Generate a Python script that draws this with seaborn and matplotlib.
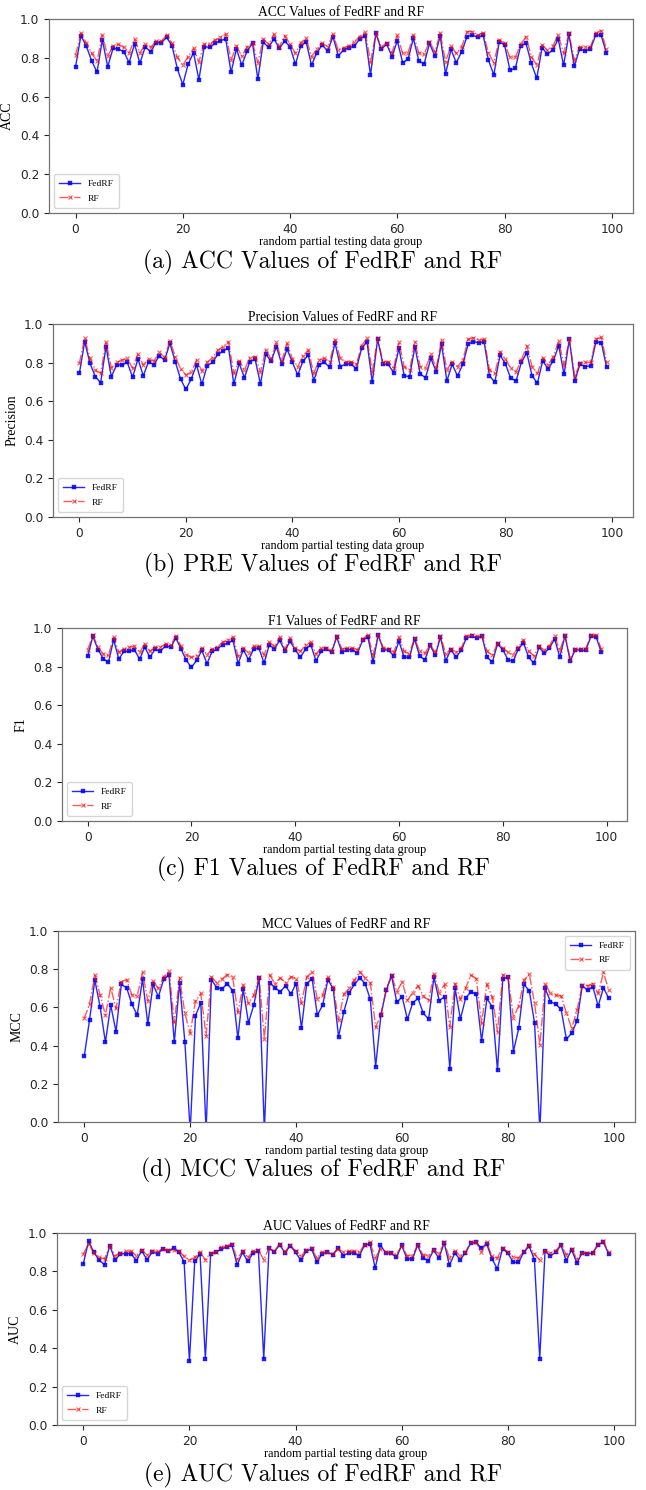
import numpy as np
import pandas as pd
import matplotlib
matplotlib.use("Agg")
import matplotlib.pyplot as plt
import seaborn as sns

groups = np.arange(100)

acc_fedrf = [0.754, 0.914, 0.861, 0.785, 0.726, 0.892, 0.754, 0.849, 0.845, 0.831,
             0.775, 0.871, 0.771, 0.857, 0.831, 0.878, 0.878, 0.905, 0.861, 0.742,
             0.661, 0.768, 0.826, 0.687, 0.857, 0.854, 0.874, 0.888, 0.897, 0.725,
             0.845, 0.762, 0.836, 0.874, 0.690, 0.880, 0.854, 0.897, 0.849, 0.886,
             0.857, 0.766, 0.861, 0.883, 0.762, 0.826, 0.866, 0.836, 0.909, 0.811,
             0.840, 0.852, 0.861, 0.897, 0.914, 0.711, 0.926, 0.843, 0.871, 0.806,
             0.888, 0.775, 0.793, 0.900, 0.785, 0.768, 0.874, 0.809, 0.912, 0.716,
             0.843, 0.775, 0.831, 0.909, 0.917, 0.905, 0.917, 0.788, 0.711, 0.883,
             0.866, 0.737, 0.745, 0.861, 0.874, 0.771, 0.694, 0.852, 0.819, 0.840,
             0.897, 0.762, 0.921, 0.757, 0.845, 0.836, 0.845, 0.917, 0.917, 0.823]
acc_rf = [0.814, 0.926, 0.878, 0.823, 0.783, 0.917, 0.809, 0.861, 0.869, 0.854,
          0.826, 0.895, 0.826, 0.869, 0.854, 0.886, 0.886, 0.917, 0.874, 0.802,
          0.762, 0.806, 0.849, 0.780, 0.871, 0.869, 0.892, 0.905, 0.923, 0.788,
          0.861, 0.809, 0.857, 0.878, 0.775, 0.897, 0.869, 0.921, 0.857, 0.914,
          0.871, 0.823, 0.878, 0.900, 0.806, 0.845, 0.874, 0.857, 0.921, 0.840,
          0.852, 0.862, 0.883, 0.909, 0.935, 0.780, 0.926, 0.857, 0.874, 0.826,
          0.915, 0.823, 0.826, 0.917, 0.826, 0.819, 0.883, 0.831, 0.926, 0.780,
          0.861, 0.823, 0.857, 0.935, 0.935, 0.917, 0.929, 0.823, 0.775, 0.892,
          0.874, 0.802, 0.802, 0.869, 0.909, 0.806, 0.762, 0.866, 0.840, 0.861,
          0.917, 0.823, 0.926, 0.788, 0.854, 0.854, 0.857, 0.926, 0.940, 0.843]

pre_fedrf = [0.744, 0.908, 0.796, 0.727, 0.696, 0.883, 0.727, 0.788, 0.788, 0.801,
             0.724, 0.819, 0.732, 0.805, 0.788, 0.836, 0.813, 0.900, 0.805, 0.715,
             0.661, 0.715, 0.788, 0.687, 0.784, 0.801, 0.843, 0.860, 0.877, 0.689,
             0.796, 0.722, 0.805, 0.817, 0.689, 0.843, 0.808, 0.883, 0.791, 0.870,
             0.801, 0.736, 0.808, 0.839, 0.706, 0.788, 0.801, 0.775, 0.903, 0.779,
             0.793, 0.793, 0.767, 0.874, 0.908, 0.698, 0.921, 0.791, 0.791, 0.748,
             0.874, 0.732, 0.727, 0.883, 0.741, 0.722, 0.822, 0.753, 0.896, 0.705,
             0.791, 0.731, 0.791, 0.896, 0.908, 0.903, 0.908, 0.732, 0.698, 0.839,
             0.793, 0.718, 0.706, 0.801, 0.851, 0.732, 0.693, 0.810, 0.767, 0.810,
             0.888, 0.739, 0.921, 0.706, 0.791, 0.779, 0.784, 0.908, 0.903, 0.775]
pre_rf = [0.796, 0.926, 0.822, 0.762, 0.744, 0.908, 0.774, 0.801, 0.813, 0.822,
          0.770, 0.843, 0.788, 0.819, 0.808, 0.853, 0.826, 0.914, 0.831, 0.767,
          0.736, 0.750, 0.813, 0.756, 0.801, 0.826, 0.865, 0.883, 0.908, 0.744,
          0.808, 0.762, 0.826, 0.831, 0.753, 0.865, 0.819, 0.905, 0.808, 0.900,
          0.819, 0.779, 0.836, 0.865, 0.744, 0.813, 0.822, 0.805, 0.917, 0.822,
          0.805, 0.805, 0.791, 0.888, 0.926, 0.753, 0.926, 0.805, 0.805, 0.770,
          0.905, 0.779, 0.762, 0.908, 0.779, 0.770, 0.843, 0.770, 0.917, 0.762,
          0.805, 0.779, 0.813, 0.921, 0.929, 0.917, 0.921, 0.762, 0.744, 0.857,
          0.819, 0.770, 0.753, 0.813, 0.888, 0.779, 0.744, 0.826, 0.788, 0.831,
          0.912, 0.788, 0.922, 0.727, 0.796, 0.801, 0.801, 0.922, 0.931, 0.801]

f1_fedrf = [0.853, 0.957, 0.888, 0.841, 0.822, 0.939, 0.839, 0.879, 0.879, 0.888,
            0.839, 0.901, 0.848, 0.891, 0.879, 0.908, 0.900, 0.948, 0.891, 0.832,
            0.796, 0.832, 0.884, 0.815, 0.879, 0.891, 0.913, 0.922, 0.936, 0.815,
            0.888, 0.836, 0.891, 0.896, 0.818, 0.913, 0.891, 0.936, 0.882, 0.931,
            0.888, 0.848, 0.891, 0.913, 0.830, 0.879, 0.891, 0.874, 0.953, 0.874,
            0.888, 0.888, 0.870, 0.936, 0.953, 0.824, 0.962, 0.888, 0.884, 0.856,
            0.931, 0.848, 0.848, 0.943, 0.853, 0.836, 0.910, 0.858, 0.953, 0.830,
            0.888, 0.848, 0.884, 0.948, 0.957, 0.948, 0.957, 0.848, 0.824, 0.917,
            0.888, 0.836, 0.827, 0.891, 0.922, 0.848, 0.818, 0.900, 0.870, 0.896,
            0.943, 0.849, 0.960, 0.830, 0.888, 0.884, 0.884, 0.957, 0.953, 0.874]
f1_rf = [0.888, 0.962, 0.900, 0.865, 0.858, 0.953, 0.874, 0.891, 0.900, 0.905,
         0.874, 0.917, 0.879, 0.900, 0.900, 0.917, 0.910, 0.960, 0.905, 0.862,
         0.848, 0.856, 0.896, 0.862, 0.891, 0.901, 0.927, 0.936, 0.953, 0.853,
         0.896, 0.870, 0.905, 0.905, 0.862, 0.927, 0.905, 0.953, 0.891, 0.948,
         0.896, 0.879, 0.913, 0.927, 0.865, 0.896, 0.896, 0.882, 0.957, 0.891,
         0.896, 0.896, 0.888, 0.943, 0.965, 0.862, 0.962, 0.896, 0.891, 0.874,
         0.952, 0.879, 0.867, 0.948, 0.879, 0.870, 0.913, 0.874, 0.960, 0.867,
         0.891, 0.874, 0.896, 0.960, 0.962, 0.957, 0.960, 0.879, 0.858, 0.922,
         0.896, 0.874, 0.862, 0.900, 0.939, 0.879, 0.856, 0.905, 0.884, 0.908,
         0.957, 0.884, 0.962, 0.841, 0.891, 0.891, 0.891, 0.962, 0.965, 0.891]

mcc_fedrf = [0.343, 0.534, 0.743, 0.603, 0.417, 0.612, 0.473, 0.720, 0.703, 0.616,
             0.560, 0.748, 0.513, 0.720, 0.656, 0.748, 0.769, 0.417, 0.730, 0.417,
             -0.05, 0.557, 0.624, -0.05, 0.746, 0.704, 0.696, 0.725, 0.687, 0.438,
             0.696, 0.520, 0.612, 0.755, -0.05, 0.729, 0.703, 0.682, 0.713, 0.670,
             0.725, 0.490, 0.725, 0.751, 0.560, 0.612, 0.746, 0.696, 0.447, 0.577,
             0.678, 0.720, 0.755, 0.725, 0.642, 0.290, 0.560, 0.690, 0.765, 0.626,
             0.656, 0.537, 0.624, 0.647, 0.569, 0.539, 0.757, 0.635, 0.656, 0.277,
             0.699, 0.539, 0.650, 0.682, 0.668, 0.424, 0.647, 0.603, 0.270, 0.751,
             0.757, 0.369, 0.490, 0.720, 0.687, 0.517, -0.05, 0.699, 0.630, 0.617,
             0.590, 0.435, 0.464, 0.529, 0.713, 0.690, 0.708, 0.607, 0.703, 0.647]
mcc_rf = [0.543, 0.616, 0.769, 0.664, 0.560, 0.704, 0.595, 0.734, 0.746, 0.664,
          0.661, 0.783, 0.635, 0.739, 0.699, 0.760, 0.790, 0.522, 0.755, 0.569,
          0.464, 0.633, 0.673, 0.452, 0.760, 0.729, 0.748, 0.772, 0.760, 0.574,
          0.717, 0.621, 0.664, 0.760, 0.435, 0.769, 0.725, 0.755, 0.729, 0.760,
          0.751, 0.621, 0.760, 0.786, 0.643, 0.664, 0.757, 0.708, 0.534, 0.670,
          0.699, 0.743, 0.786, 0.755, 0.729, 0.496, 0.563, 0.696, 0.769, 0.682,
          0.734, 0.638, 0.678, 0.713, 0.659, 0.638, 0.774, 0.677, 0.720, 0.499,
          0.725, 0.642, 0.703, 0.769, 0.751, 0.517, 0.722, 0.656, 0.473, 0.772,
          0.760, 0.546, 0.607, 0.743, 0.774, 0.621, 0.403, 0.725, 0.673, 0.664,
          0.659, 0.572, 0.490, 0.586, 0.717, 0.713, 0.725, 0.673, 0.783, 0.690]

auc_fedrf = [0.839, 0.957, 0.899, 0.858, 0.835, 0.934, 0.858, 0.892, 0.892, 0.892,
             0.856, 0.908, 0.861, 0.901, 0.892, 0.918, 0.905, 0.922, 0.901, 0.849,
             0.332, 0.852, 0.891, 0.344, 0.892, 0.899, 0.918, 0.925, 0.936, 0.835,
             0.899, 0.852, 0.896, 0.908, 0.345, 0.922, 0.901, 0.939, 0.896, 0.934,
             0.899, 0.858, 0.905, 0.917, 0.849, 0.891, 0.901, 0.887, 0.922, 0.882,
             0.896, 0.896, 0.882, 0.936, 0.943, 0.818, 0.936, 0.896, 0.896, 0.873,
             0.936, 0.865, 0.865, 0.936, 0.870, 0.856, 0.910, 0.870, 0.948, 0.832,
             0.896, 0.861, 0.896, 0.948, 0.951, 0.922, 0.943, 0.866, 0.813, 0.918,
             0.896, 0.847, 0.847, 0.899, 0.931, 0.861, 0.345, 0.905, 0.882, 0.899,
             0.936, 0.856, 0.913, 0.844, 0.896, 0.891, 0.896, 0.939, 0.951, 0.891]
auc_rf = [0.891, 0.943, 0.896, 0.873, 0.865, 0.934, 0.882, 0.896, 0.905, 0.905,
          0.882, 0.913, 0.884, 0.905, 0.905, 0.917, 0.910, 0.910, 0.905, 0.878,
          0.858, 0.873, 0.899, 0.861, 0.896, 0.901, 0.925, 0.931, 0.943, 0.865,
          0.905, 0.873, 0.905, 0.910, 0.861, 0.922, 0.905, 0.944, 0.901, 0.939,
          0.905, 0.878, 0.910, 0.922, 0.870, 0.899, 0.899, 0.891, 0.917, 0.901,
          0.905, 0.905, 0.901, 0.939, 0.953, 0.870, 0.917, 0.901, 0.896, 0.887,
          0.934, 0.882, 0.882, 0.939, 0.887, 0.882, 0.913, 0.891, 0.951, 0.870,
          0.905, 0.882, 0.901, 0.951, 0.951, 0.901, 0.951, 0.878, 0.870, 0.922,
          0.901, 0.875, 0.870, 0.905, 0.936, 0.891, 0.858, 0.908, 0.896, 0.908,
          0.939, 0.887, 0.917, 0.865, 0.896, 0.896, 0.896, 0.944, 0.957, 0.899]

metrics = ["ACC", "Precision", "F1", "MCC", "AUC"]
short_names = ["ACC", "PRE", "F1", "MCC", "AUC"]
letters = ["a", "b", "c", "d", "e"]
fedrf_vals = [acc_fedrf, pre_fedrf, f1_fedrf, mcc_fedrf, auc_fedrf]
rf_vals = [acc_rf, pre_rf, f1_rf, mcc_rf, auc_rf]
legend_locs = ["lower left", "lower left", "lower left", "upper right", "lower left"]

W, H = 646, 1490
# axes boxes in pixels: left, right, top, bottom
boxes = [(49, 633, 19, 213), (53, 633, 324, 517), (62, 627, 628, 821),
         (58, 635, 931, 1122), (57, 635, 1233, 1425)]
caption_y = [262, 565, 869, 1170, 1475]

serif = "Liberation Serif"
fig = plt.figure(figsize=(W / 100, H / 100), dpi=100)

for k in range(5):
    l, r, t, b = boxes[k]
    ax = fig.add_axes([l / W, 1 - b / H, (r - l) / W, (b - t) / H])
    sns.lineplot(x=groups, y=fedrf_vals[k], ax=ax, color="blue", marker="s",
                 markersize=3.2, markeredgecolor="blue", markeredgewidth=0.3,
                 linewidth=1.0, alpha=0.85, label="FedRF")
    sns.lineplot(x=groups, y=rf_vals[k], ax=ax, color="red", marker="x",
                 markersize=3.3, markeredgecolor="red", markeredgewidth=0.8,
                 linewidth=1.0, linestyle="-.", alpha=0.65, label="RF")
    ax.set_ylim(0, 1.0)
    ax.set_xlim(-4.95, 103.95)
    ax.set_xticks([0, 20, 40, 60, 80, 100])
    ax.set_yticks(np.arange(0, 1.01, 0.2))
    ax.tick_params(labelsize=8.8, length=3.5, width=0.8, colors="0.15")
    for s in ax.spines.values():
        s.set_color("0.45")
        s.set_linewidth(0.9)
    ax.set_title(f"{metrics[k]} Values of FedRF and RF", fontfamily=serif,
                 fontsize=9.8, pad=2)
    ax.set_ylabel(metrics[k], fontfamily=serif, fontsize=10)
    ax.set_xlabel("random partial testing data group", fontfamily=serif,
                  fontsize=8.8, labelpad=0)
    ax.legend(loc=legend_locs[k], prop={"family": serif, "size": 6.8},
              handlelength=2.2, borderpad=0.6, labelspacing=0.6)
    fig.text(0.5, 1 - caption_y[k] / H,
             f"({letters[k]}) {short_names[k]} Values of FedRF and RF",
             ha="center", va="center", fontfamily="cmr10", fontsize=17)

fig.savefig("out.png", dpi=100, facecolor="white")
